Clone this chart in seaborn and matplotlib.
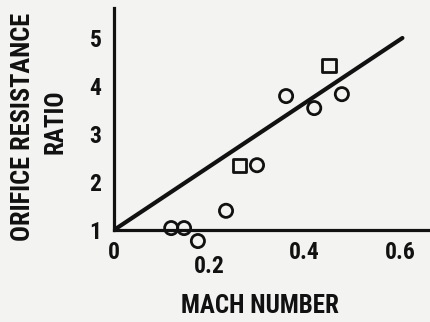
import matplotlib
matplotlib.use("Agg")
import matplotlib.pyplot as plt
import matplotlib.transforms as mtransforms
import pandas as pd
import seaborn as sns

# Measured orifice resistance ratio versus Mach number
circle_mach = [0.12, 0.147, 0.176, 0.235, 0.300, 0.361, 0.420, 0.478]
circle_ratio = [1.04, 1.04, 0.77, 1.40, 2.35, 3.79, 3.54, 3.83]
square_mach = [0.264, 0.451]
square_ratio = [2.35, 4.42]

# Straight-line correlation
fit_mach = [0.0, 0.605]
fit_ratio = [1.0, 5.0]

x_ticks = [0.0, 0.2, 0.4, 0.6]
x_tick_labels = ["0", "0.2", "0.4", "0.6"]
y_ticks = [1, 2, 3, 4, 5]
y_tick_labels = ["1", "2", "3", "4", "5"]

points = pd.DataFrame({
    "mach": circle_mach + square_mach,
    "ratio": circle_ratio + square_ratio,
    "kind": ["circle"] * len(circle_mach) + ["square"] * len(square_mach),
})
fit = pd.DataFrame({"mach": fit_mach, "ratio": fit_ratio})

sns.set_theme(style="white")
plt.rcParams["font.family"] = ["Roboto Condensed", "Archivo Narrow",
                               "Barlow Condensed", "DejaVu Sans"]
plt.rcParams["font.weight"] = "heavy"

ink = "#111111"
paper = "#f3f3f1"

fig = plt.figure(figsize=(4.30, 3.22), dpi=100, facecolor=paper)
ax = fig.add_axes([114 / 430, 62 / 322, 316 / 430, 252 / 322])
ax.set_facecolor(paper)

sns.lineplot(data=fit, x="mach", y="ratio", ax=ax, color=ink, lw=3.0,
             solid_capstyle="round", zorder=3)
sns.scatterplot(data=points, x="mach", y="ratio", style="kind",
                markers={"circle": "o", "square": "s"}, s=90,
                facecolor="none", edgecolor=ink, linewidth=2.0,
                legend=False, ax=ax, zorder=4)

ax.set_xlim(0, 316 / 476.7)
ax.set_ylim(1 - 30 / 48, 1 + 222 / 48)

for side in ("top", "right"):
    ax.spines[side].set_visible(False)
ax.spines["bottom"].set_position(("data", 1))
ax.spines["left"].set_bounds(1, 1 + 222 / 48)
for side in ("left", "bottom"):
    ax.spines[side].set_color(ink)
    ax.spines[side].set_linewidth(2.3)

ax.set_xticks(x_ticks, x_tick_labels)
ax.set_yticks(y_ticks, y_tick_labels)
ax.tick_params(axis="both", direction="in", length=5, width=2, color=ink,
               labelsize=17, labelcolor=ink)
ax.tick_params(axis="x", pad=8)
ax.tick_params(axis="y", pad=9)
ax.xaxis.get_major_ticks()[0].tick1line.set_visible(False)
ax.yaxis.get_major_ticks()[0].tick1line.set_visible(False)

# the 0.2 label sits a little lower than the others
lab02 = ax.get_xticklabels()[1]
lab02.set_transform(lab02.get_transform() +
                    mtransforms.ScaledTranslation(0, -14 / 100, fig.dpi_scale_trans))

ax.set_xlabel("")
ax.set_ylabel("")
fig.text(260 / 430, 1 - 306 / 322, "MACH NUMBER", ha="center", va="center",
         fontsize=18, fontweight="heavy", color=ink)
fig.text(23 / 430, 1 - 127 / 322, "ORIFICE RESISTANCE", ha="center", va="center",
         rotation=90, fontsize=19, fontweight="heavy", color=ink)
fig.text(56 / 430, 1 - 122 / 322, "RATIO", ha="center", va="center",
         rotation=90, fontsize=18, fontweight="heavy", color=ink)

fig.savefig("out.png", dpi=100, facecolor=paper)
